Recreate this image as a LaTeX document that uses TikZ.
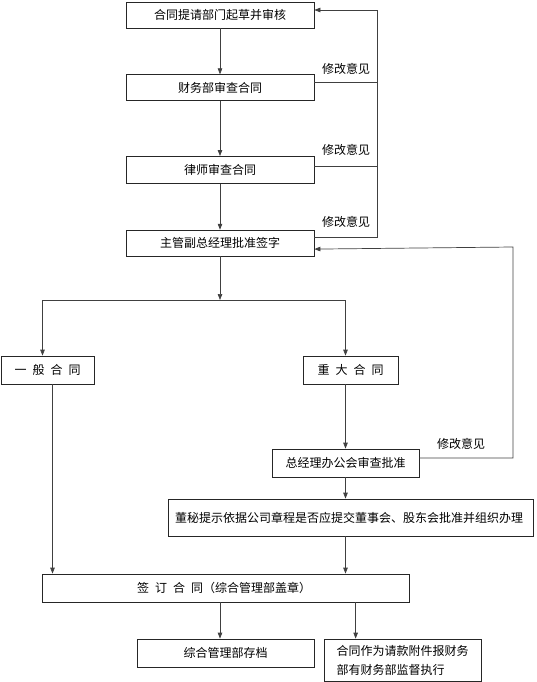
\documentclass[tikz,border=0pt]{standalone}
\usepackage{fontspec}
\newfontfamily\cjk{Noto Sans CJK SC}
\usetikzlibrary{positioning,arrows.meta}
\newcommand{\kgap}{\hspace{6pt}}

\begin{document}
\begin{tikzpicture}[
x=1pt, y=-1pt,
font=\cjk\fontsize{12}{19}\selectfont,
box/.style={
	rectangle,
	draw=black!85,
	line width=0.7pt,
	align=center,
	inner sep=2pt,
	minimum width=188pt,
	minimum height=26pt
},
small/.style={
	box,
	minimum height=28pt
},
note/.style={inner sep=1pt},
line/.style={draw=black!75, line width=0.7pt},
arrow/.style={line, -{Triangle[length=6pt,width=4.5pt]}}
]
\useasboundingbox (0,0) rectangle (536,682);

\node[box] (draft) at (220,15) {合同提请部门起草并审核};

\node[box, below=46pt of draft] (finance) {财务部审查合同};

\node[box, minimum height=27pt, below=55pt of finance] (lawyer) {律师审查合同};

\node[box, below=46pt of lawyer] (vp) {主管副总经理批准签字};

\node[small, minimum width=93pt] (general) at (47.5,370) {一\kgap 般\kgap 合\kgap 同};

\node[small, minimum width=95pt] (major) at (350.5,370) {重\kgap 大\kgap 合\kgap 同};

\node[small, minimum width=147pt] (office) at (345.5,463) {总经理办公会审查批准};

\node[box, minimum width=365pt, minimum height=37pt] (board) at (350.5,517.5) {
	董秘提示依据公司章程是否应提交董事会、股东会批准并组织办理
};

\node[small, minimum width=367pt] (sign) at (225.5,588) {
	签\kgap 订\kgap 合\kgap 同（综合管理部盖章）
};

\node[small, minimum width=177pt] (archive) at (225.5,653) {综合管理部存档};

\node[box, minimum width=157pt, minimum height=42pt, align=left] (execute) at (402.5,660) {
	合同作为请款附件报财务\\
	部有财务部监督执行
};

\node[note] (note1) at (346,69) {修改意见};
\node[note] (note2) at (346,150) {修改意见};
\node[note] (note3) at (346,222) {修改意见};
\node[note] (note4) at (461,444) {修改意见};

\coordinate (split) at (220,300);
\coordinate (back) at (377,10);
\coordinate (outer) at (513,247);
\coordinate (execin) at ([xshift=32pt]execute.north west);

\draw[arrow] (draft) -- (finance);
\draw[arrow] (finance) -- (lawyer);
\draw[arrow] (lawyer) -- (vp);
\draw[arrow] (vp) -- (split);

\draw[arrow] (split) -| ([xshift=-5pt]general.north);
\draw[arrow] (split) -| (major.north -| office);

\draw[arrow] (major.south -| office) -- (office);
\draw[arrow] (office) -- (office |- board.north);
\draw[arrow] (board.south -| office) -- (office |- sign.north);
\draw[arrow] ([xshift=5pt]general.south) -- ([xshift=5pt]general.south |- sign.north);

\draw[arrow] (sign.south -| split) -- (archive.north -| split);
\draw[arrow] (sign.south -| execin) -- (execin);

% feedback loops
\draw[line] ([yshift=5pt]finance.east) -- ([yshift=5pt]finance.east -| back);
\draw[line] ([yshift=4pt]lawyer.east) -- ([yshift=4pt]lawyer.east -| back);
\draw[arrow] ([yshift=6pt]vp.east) -| (back) -- ([yshift=5pt]draft.east);
\draw[arrow] ([yshift=5pt]office.east) -| (outer) -- ([yshift=-6pt]vp.east);

\end{tikzpicture}
\end{document}
